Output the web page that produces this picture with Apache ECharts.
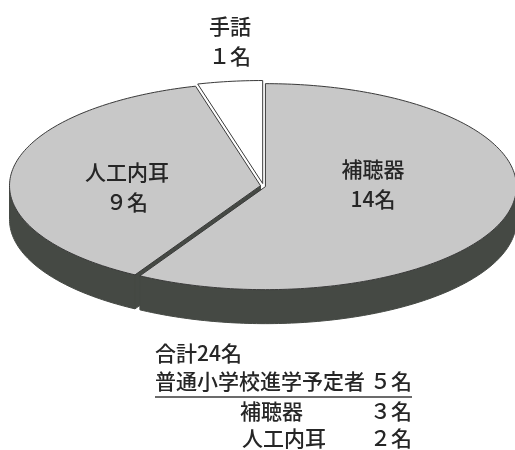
<!DOCTYPE html>
<html>
<head>
<meta charset="utf-8">
<script src="https://cdn.jsdelivr.net/npm/echarts@6/dist/echarts.min.js"></script>
<style>
  html, body { margin: 0; padding: 0; background: #ffffff; }
  #chart { width: 515px; height: 450px; }
</style>
</head>
<body>
<div id="chart"></div>
<script>
// Communication modes of the children (persons)
const modeNames  = ['手話', '人工内耳', '補聴器'];
const modeCounts = [1, 9, 14];

// Children planning to enter a regular elementary school, by mode
const schoolNames  = ['補聴器', '人工内耳'];
const schoolCounts = [3, 2];

// ---- layout of the tilted disc ----
const CX = 263, CY = 186;      // centre of the top face
const RX = 251, RY = 103;      // radii of the top ellipse
const DEPTH = 34;              // thickness of the disc
const EXPLODE = 2.5;           // small separation between slices
const START = 90;              // first slice begins at 12 o'clock, counter-clockwise

const FONT = '"Noto Sans CJK JP", "Noto Sans CJK SC", sans-serif';
const FS = 21;
const WEIGHT = 500;
const TEXT_COLOR = '#262626';
const FILLS = ['#ffffff', '#c8c8c8', '#c8c8c8'];
const SIDE = '#454944';
const EDGE = '#3a3a3a';

// label anchors (block centres) for each slice
const labelAnchors = [[230, 41], [127, 187], [373, 184]];

const total = modeCounts.reduce((a, b) => a + b, 0);

// full-width digits for single-digit numbers
function num(n) {
  const s = String(n);
  if (s.length > 1) return s;
  return String.fromCharCode(s.charCodeAt(0) + 0xFEE0);
}

function sliceAngles(i) {
  let cum = 0;
  for (let k = 0; k < i; k++) cum += modeCounts[k];
  const a0 = START + 360 * cum / total;
  const a1 = START + 360 * (cum + modeCounts[i]) / total;
  const mid = (a0 + a1) / 2 * Math.PI / 180;
  return { a0, a1, ox: EXPLODE * Math.cos(mid), oy: -EXPLODE * Math.sin(mid) };
}

function pt(s, deg, dy) {
  const r = deg * Math.PI / 180;
  return [CX + s.ox + RX * Math.cos(r), CY + s.oy - RY * Math.sin(r) + (dy || 0)];
}

function arc(s, from, to, dy) {
  const pts = [];
  const n = Math.max(2, Math.ceil(Math.abs(to - from)));
  for (let k = 0; k <= n; k++) pts.push(pt(s, from + (to - from) * k / n, dy));
  return pts;
}

// side walls: curved front rim and the visible cut faces
function renderWalls(params, api) {
  const i = params.dataIndex;
  const s = sliceAngles(i);
  const children = [];
  // front half of the rim lies between 180 and 360 degrees
  const ranges = [[180, 360], [540, 720]];
  ranges.forEach(([lo, hi]) => {
    const from = Math.max(s.a0, lo), to = Math.min(s.a1, hi);
    if (to > from) {
      const top = arc(s, from, to, 0);
      const bot = arc(s, from, to, DEPTH).reverse();
      children.push({
        type: 'polygon',
        shape: { points: top.concat(bot) },
        style: { fill: SIDE, stroke: SIDE, lineWidth: 1 }
      });
    }
  });
  // cut face at the end of the slice when it faces the viewer
  const endMod = ((s.a1 % 360) + 360) % 360;
  if (endMod > 180 && endMod < 360) {
    const c = [CX + s.ox, CY + s.oy];
    const p = pt(s, s.a1, 0);
    children.push({
      type: 'polygon',
      shape: { points: [c, p, [p[0], p[1] + DEPTH], [c[0], c[1] + DEPTH]] },
      style: { fill: SIDE, stroke: SIDE, lineWidth: 1 }
    });
  }
  return { type: 'group', children };
}

// top faces with their labels
function renderTops(params, api) {
  const i = params.dataIndex;
  const s = sliceAngles(i);
  const c = [CX + s.ox, CY + s.oy];
  const pts = [c].concat(arc(s, s.a0, s.a1, 0));
  const v = api.value(0);
  const a = labelAnchors[i];
  return {
    type: 'group',
    children: [
      {
        type: 'polygon',
        shape: { points: pts },
        style: { fill: FILLS[i], stroke: EDGE, lineWidth: 1, lineJoin: 'miter' }
      },
      {
        type: 'text',
        x: a[0], y: a[1],
        style: {
          text: modeNames[i] + '\n' + num(v) + '名',
          fill: TEXT_COLOR,
          font: WEIGHT + ' ' + FS + 'px ' + FONT,
          lineHeight: 30,
          align: 'center',
          verticalAlign: 'middle'
        }
      }
    ]
  };
}

const chart = echarts.init(document.getElementById('chart'), null, { renderer: 'canvas' });

const schoolTotal = schoolCounts.reduce((a, b) => a + b, 0);
const LEFT = 155, RIGHT = 412;
const font = WEIGHT + ' ' + FS + 'px ' + FONT;
const graphic = [
  { type: 'text', left: LEFT, top: 343,
    style: { text: '合計' + total + '名', fill: TEXT_COLOR, font } },
  { type: 'text', left: LEFT, top: 371,
    style: { text: '普通小学校進学予定者', fill: TEXT_COLOR, font } },
  { type: 'text', right: 515 - RIGHT, top: 371,
    style: { text: num(schoolTotal) + '名', fill: TEXT_COLOR, font } },
  { type: 'line', shape: { x1: LEFT, y1: 397, x2: RIGHT, y2: 397 },
    style: { stroke: '#3a3a3a', lineWidth: 1.5 } }
];
const rowTops = [401, 428];
const rowLefts = [240, 242];
schoolNames.forEach((name, k) => {
  graphic.push({ type: 'text', left: rowLefts[k], top: rowTops[k],
    style: { text: name, fill: TEXT_COLOR, font } });
  graphic.push({ type: 'text', right: 515 - RIGHT, top: rowTops[k],
    style: { text: num(schoolCounts[k]) + '名', fill: TEXT_COLOR, font } });
});

chart.setOption({
  animation: false,
  backgroundColor: '#ffffff',
  graphic,
  series: [
    {
      type: 'custom',
      coordinateSystem: 'none',
      silent: true,
      z: 1,
      renderItem: renderWalls,
      data: modeCounts.map(v => [v])
    },
    {
      type: 'custom',
      coordinateSystem: 'none',
      silent: true,
      z: 2,
      renderItem: renderTops,
      data: modeCounts.map(v => [v])
    }
  ]
});
</script>
</body>
</html>
